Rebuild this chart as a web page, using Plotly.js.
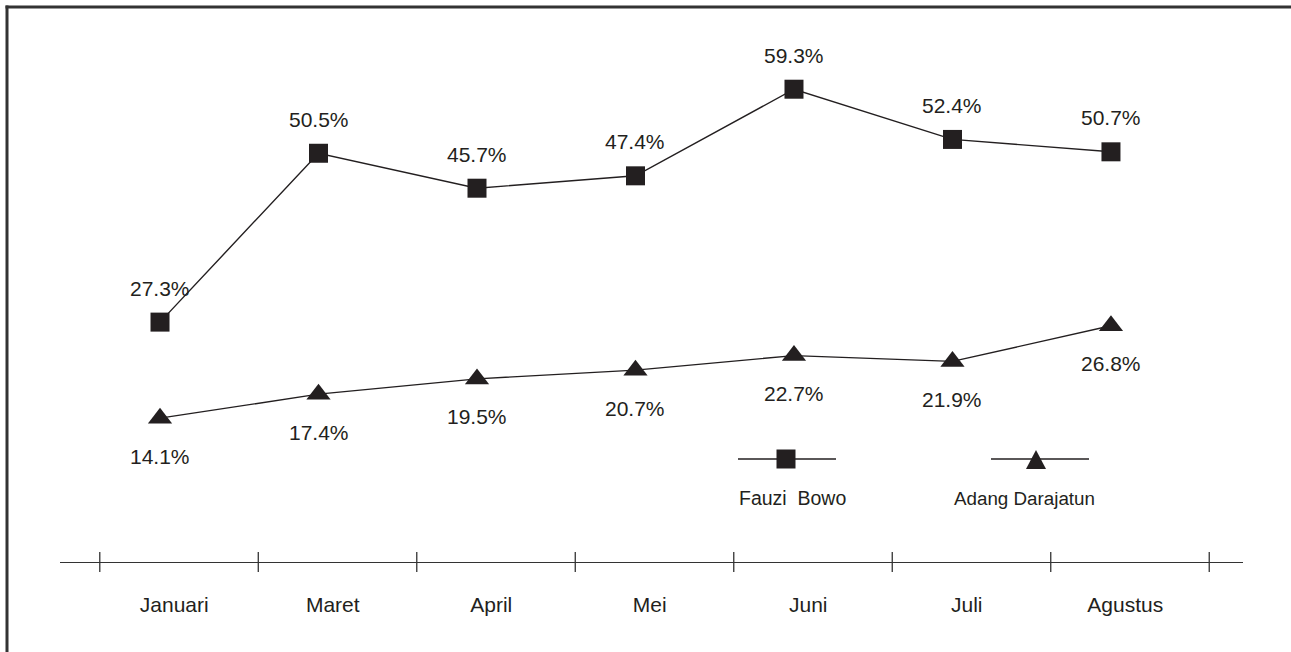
<!DOCTYPE html>
<html>
<head>
<meta charset="utf-8">
<script src="https://cdn.plot.ly/plotly-3.0.1.min.js"></script>
<style>html,body{margin:0;padding:0;background:#fff;}#chart{width:1291px;height:652px;}</style>
</head>
<body>
<div id="chart"></div>
<script>
const categories = ['Januari','Maret','April','Mei','Juni','Juli','Agustus'];
const fauziBowo = [27.3, 50.5, 45.7, 47.4, 59.3, 52.4, 50.7];
const adangDarajatun = [14.1, 17.4, 19.5, 20.7, 22.7, 21.9, 26.8];
const seriesNames = ['Fauzi Bowo', 'Adang Darajatun'];

const INK = '#231f20';
const FONT = 'Liberation Sans, Arial, Helvetica, sans-serif';
const W = 1291, H = 652;
const M = {l: 60, r: 48, t: 20, b: 90};
const PW = W - M.l - M.r, PH = H - M.t - M.b;
const px = x => (x - M.l) / PW;
const py = y => (H - M.b - y) / PH;

const idx = categories.map((c, i) => i);

const traces = [
  {x: idx, y: fauziBowo, name: seriesNames[0], type: 'scatter', mode: 'lines+markers',
   line: {color: INK, width: 1.4}, marker: {symbol: 'square', size: 19, color: INK}, hoverinfo: 'skip'},
  {x: idx, y: adangDarajatun, name: seriesNames[1], type: 'scatter', mode: 'lines+markers',
   line: {color: INK, width: 1.4}, marker: {symbol: 'triangle-up', size: 21, color: INK}, hoverinfo: 'skip'}
];

const annotations = [];
fauziBowo.forEach((v, i) => annotations.push({x: i, y: v, xref: 'x', yref: 'y', text: v.toFixed(1) + '%',
  showarrow: false, xanchor: 'center', yanchor: 'middle', yshift: 34, font: {family: FONT, size: 21, color: INK}}));
adangDarajatun.forEach((v, i) => annotations.push({x: i, y: v, xref: 'x', yref: 'y', text: v.toFixed(1) + '%',
  showarrow: false, xanchor: 'center', yanchor: 'middle', yshift: -38, font: {family: FONT, size: 21, color: INK}}));

// custom legend text
annotations.push({x: px(792), y: py(498), xref: 'paper', yref: 'paper', text: seriesNames[0].replace(' ', '  '), showarrow: false,
  xanchor: 'center', yanchor: 'middle', font: {family: FONT, size: 19.5, color: INK}});
annotations.push({x: px(1024), y: py(498), xref: 'paper', yref: 'paper', text: seriesNames[1], showarrow: false,
  xanchor: 'center', yanchor: 'middle', font: {family: FONT, size: 18.8, color: INK}});

const shapes = [];
// frame (left and top edges visible)
shapes.push({type: 'line', xref: 'paper', yref: 'paper', x0: px(7), x1: px(7), y0: py(5.5), y1: py(700), line: {color: '#333', width: 3}});
shapes.push({type: 'line', xref: 'paper', yref: 'paper', x0: px(5.5), x1: px(1400), y0: py(7), y1: py(7), line: {color: '#333', width: 3}});
// category separator ticks on the x axis
for (let i = 0; i <= categories.length; i++) {
  shapes.push({type: 'line', xref: 'x', yref: 'paper', ysizemode: 'pixel', yanchor: 0,
    x0: i - 0.38, x1: i - 0.38, y0: -10, y1: 10, line: {color: '#333', width: 1.3}});
}
// legend marks
shapes.push({type: 'line', xref: 'paper', yref: 'paper', x0: px(738), x1: px(836), y0: py(459), y1: py(459), line: {color: INK, width: 1.3}});
shapes.push({type: 'rect', xref: 'paper', yref: 'paper', x0: px(776.5), x1: px(795.5), y0: py(468.5), y1: py(449.5), line: {width: 0}, fillcolor: INK});
shapes.push({type: 'line', xref: 'paper', yref: 'paper', x0: px(991), x1: px(1089), y0: py(459), y1: py(459), line: {color: INK, width: 1.3}});
shapes.push({type: 'path', xref: 'paper', yref: 'paper',
  path: `M ${px(1026)},${py(469)} L ${px(1046)},${py(469)} L ${px(1036)},${py(450)} Z`, line: {width: 0}, fillcolor: INK});

const layout = {
  width: W, height: H,
  margin: M,
  paper_bgcolor: '#fff', plot_bgcolor: '#fff',
  showlegend: false,
  xaxis: {range: [-0.631, 6.833], showgrid: false, zeroline: false, showline: true, linecolor: '#333', linewidth: 1.3,
    tickmode: 'array', tickvals: idx.map(i => i + 0.09), ticktext: categories, ticks: '',
    tickfont: {family: FONT, size: 21, color: INK}, ticklabelstandoff: 23, fixedrange: true},
  yaxis: {range: [-5.66, 68.81], visible: false, fixedrange: true},
  annotations: annotations,
  shapes: shapes
};

Plotly.newPlot('chart', traces, layout, {displayModeBar: false, staticPlot: true});
</script>
</body>
</html>
